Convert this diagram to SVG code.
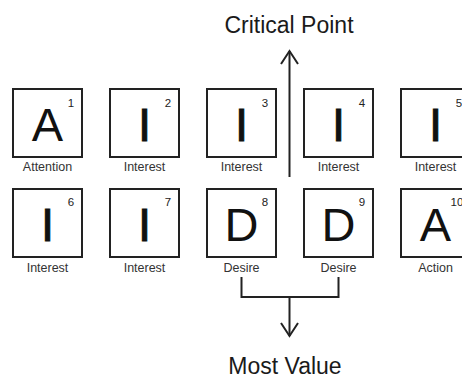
<svg xmlns="http://www.w3.org/2000/svg" width="462" height="380" viewBox="0 0 462 380">
  <style>
    .tile { fill: #fff; stroke: #222; stroke-width: 2; }
    .big { font-family: "Liberation Sans", Arial, sans-serif; font-size: 47px; fill: #111; text-anchor: middle; }
    .bar { stroke: #111; stroke-width: 1; }
    .num { font-family: "Liberation Sans", Arial, sans-serif; font-size: 11.5px; fill: #222; text-anchor: middle; }
    .lbl { font-family: "Liberation Sans", Arial, sans-serif; font-size: 12.5px; fill: #333; text-anchor: middle; }
    .title { font-family: "Liberation Sans", Arial, sans-serif; font-size: 23px; fill: #1a1a1a; text-anchor: middle; }
    .wire { fill: none; stroke: #222; stroke-width: 2; }
  </style>

  <text class="title" x="289" y="33">Critical Point</text>
  <text class="title" x="285" y="374">Most Value</text>

  <!-- row 1 -->
  <g id="tile1">
    <rect class="tile" x="13" y="89" width="69" height="68"/>
    <text class="big" x="47.5" y="141">A</text>
    <text class="num" x="71" y="107">1</text>
    <text class="lbl" x="47.5" y="171">Attention</text>
  </g>
  <g id="tile2">
    <rect class="tile" x="110" y="89" width="69" height="68"/>
    <text class="big bar" x="144.5" y="141">I</text>
    <text class="num" x="168" y="107">2</text>
    <text class="lbl" x="144.5" y="171">Interest</text>
  </g>
  <g id="tile3">
    <rect class="tile" x="207" y="89" width="69" height="68"/>
    <text class="big bar" x="241.5" y="141">I</text>
    <text class="num" x="265" y="107">3</text>
    <text class="lbl" x="241.5" y="171">Interest</text>
  </g>
  <g id="tile4">
    <rect class="tile" x="304" y="89" width="69" height="68"/>
    <text class="big bar" x="338.5" y="141">I</text>
    <text class="num" x="362" y="107">4</text>
    <text class="lbl" x="338.5" y="171">Interest</text>
  </g>
  <g id="tile5">
    <rect class="tile" x="401" y="89" width="69" height="68"/>
    <text class="big bar" x="435.5" y="141">I</text>
    <text class="num" x="459" y="107">5</text>
    <text class="lbl" x="435.5" y="171">Interest</text>
  </g>

  <!-- row 2 -->
  <g id="tile6">
    <rect class="tile" x="13" y="189" width="69" height="68"/>
    <text class="big bar" x="47.5" y="241">I</text>
    <text class="num" x="71" y="206">6</text>
    <text class="lbl" x="47.5" y="272">Interest</text>
  </g>
  <g id="tile7">
    <rect class="tile" x="110" y="189" width="69" height="68"/>
    <text class="big bar" x="144.5" y="241">I</text>
    <text class="num" x="168" y="206">7</text>
    <text class="lbl" x="144.5" y="272">Interest</text>
  </g>
  <g id="tile8">
    <rect class="tile" x="207" y="189" width="69" height="68"/>
    <text class="big" x="241.5" y="241">D</text>
    <text class="num" x="265" y="206">8</text>
    <text class="lbl" x="241.5" y="272">Desire</text>
  </g>
  <g id="tile9">
    <rect class="tile" x="304" y="189" width="69" height="68"/>
    <text class="big" x="338.5" y="241">D</text>
    <text class="num" x="362" y="206">9</text>
    <text class="lbl" x="338.5" y="272">Desire</text>
  </g>
  <g id="tile10">
    <rect class="tile" x="401" y="189" width="69" height="68"/>
    <text class="big" x="435.5" y="241">A</text>
    <text class="num" x="457" y="206">10</text>
    <text class="lbl" x="435.5" y="272">Action</text>
  </g>

  <!-- connectors -->
  <g id="connectors">
    <path class="wire" d="M289.5 177 V51"/>
    <path class="wire" d="M281 64 L289.5 51 L298 64"/>
    <path class="wire" d="M241.5 277 V297 H338.5 V277"/>
    <path class="wire" d="M289.5 297 V336"/>
    <path class="wire" d="M281 323 L289.5 336 L298 323"/>
  </g>
</svg>
